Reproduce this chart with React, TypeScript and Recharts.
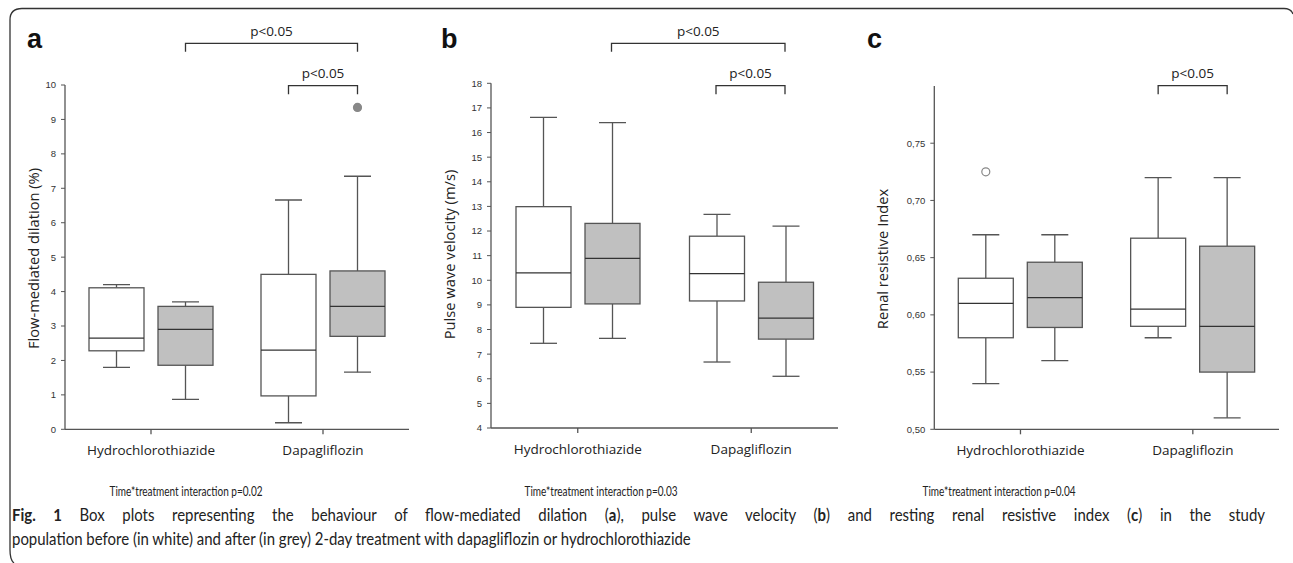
import React from "react";
import { ComposedChart, Bar, XAxis, YAxis } from "recharts";

const categories = ["Hydrochlorothiazide", "Dapagliflozin"];

// five-number summaries per category: [min, q1, median, q3, max]
const fmdBefore = [
  [1.8, 2.28, 2.65, 4.11, 4.2],
  [0.19, 0.97, 2.3, 4.5, 6.66],
];
const fmdAfter = [
  [0.87, 1.86, 2.9, 3.57, 3.7],
  [1.66, 2.7, 3.57, 4.6, 7.35],
];
const fmdAfterOutliers = [[], [9.35]];
const fmdTicks = [0, 1, 2, 3, 4, 5, 6, 7, 8, 9, 10];

const pwvBefore = [
  [7.44, 8.9, 10.3, 12.99, 16.62],
  [6.68, 9.16, 10.27, 11.79, 12.68],
];
const pwvAfter = [
  [7.64, 9.04, 10.89, 12.31, 16.4],
  [6.1, 7.61, 8.46, 9.92, 12.2],
];
const pwvTicks = [4, 5, 6, 7, 8, 9, 10, 11, 12, 13, 14, 15, 16, 17, 18];

const rriBefore = [
  [0.54, 0.58, 0.61, 0.632, 0.67],
  [0.58, 0.59, 0.605, 0.667, 0.72],
];
const rriAfter = [
  [0.56, 0.589, 0.615, 0.646, 0.67],
  [0.51, 0.55, 0.59, 0.66, 0.72],
];
const rriBeforeOutliers = [[0.725], []];
const rriTicks = [0.5, 0.55, 0.6, 0.65, 0.7, 0.75];

const interactionLabels = [
  "Time*treatment interaction p=0.02",
  "Time*treatment interaction p=0.03",
  "Time*treatment interaction p=0.04",
];

const BAR_SIZE = 55;
const BAR_GAP = 14;
const CHART_H = 475;
const LINE = "#555";
const GREY = "#c0c0c0";
const SANS = "'Open Sans', sans-serif";
const TICK_FONT = "'Liberation Sans Narrow', 'Liberation Sans', Arial, sans-serif";
const CAPTION_FONT = "Lato, sans-serif";
const CAPTION_SCALE = 0.88;

const toStats = (s: number[], out: number[] = []) => ({
  min: s[0],
  q1: s[1],
  median: s[2],
  q3: s[3],
  max: s[4],
  outliers: out,
});

const buildRows = (before: number[][], after: number[][], beforeOut?: number[][], afterOut?: number[][]) =>
  categories.map((name, i) => ({
    name,
    before: toStats(before[i], beforeOut?.[i]),
    after: toStats(after[i], afterOut?.[i]),
  }));

const BoxShape = (props: any) => {
  const { x, y, width, height, payload, series, fill, outlierFill } = props;
  const s = payload[series];
  const top = Math.min(y, y + height);
  const h = Math.abs(height);
  const k = h / (s.max - s.min);
  const yOf = (v: number) => top + (s.max - v) * k;
  const cx = x + width / 2;
  const cap = 13.5;
  const sw = 1.3;
  return (
    <g>
      <line x1={cx} x2={cx} y1={yOf(s.max)} y2={yOf(s.q3)} stroke={LINE} strokeWidth={sw} />
      <line x1={cx} x2={cx} y1={yOf(s.q1)} y2={yOf(s.min)} stroke={LINE} strokeWidth={sw} />
      <line x1={cx - cap} x2={cx + cap} y1={yOf(s.max)} y2={yOf(s.max)} stroke={LINE} strokeWidth={sw} />
      <line x1={cx - cap} x2={cx + cap} y1={yOf(s.min)} y2={yOf(s.min)} stroke={LINE} strokeWidth={sw} />
      <rect x={x} y={yOf(s.q3)} width={width} height={yOf(s.q1) - yOf(s.q3)} fill={fill} stroke={LINE} strokeWidth={sw} />
      <line x1={x} x2={x + width} y1={yOf(s.median)} y2={yOf(s.median)} stroke="#333" strokeWidth={sw} />
      {s.outliers.map((o: number, i: number) => (
        <circle key={i} cx={cx} cy={yOf(o)} r={4} fill={outlierFill} stroke="#888" strokeWidth={1.2} />
      ))}
    </g>
  );
};

interface PanelProps {
  left: number;
  width: number;
  plotL: number;
  plotR: number;
  plotT: number;
  plotB: number;
  rows: any[];
  domain: [number, number];
  ticks: number[];
  format?: (v: number) => string;
  beforeOutlierFill?: string;
  afterOutlierFill?: string;
}

const Panel = (p: PanelProps) => {
  const margin = {
    top: p.plotT,
    left: p.plotL - p.left - 60,
    right: p.left + p.width - p.plotR,
    bottom: CHART_H - p.plotB - 30,
  };
  return (
    <div style={{ position: "absolute", left: p.left, top: 0 }}>
      <ComposedChart width={p.width} height={CHART_H} data={p.rows} margin={margin} barGap={BAR_GAP}>
        <XAxis
          dataKey="name"
          tickSize={5}
          tickMargin={11}
          axisLine={{ stroke: LINE, strokeWidth: 1.3 }}
          tickLine={{ stroke: LINE, strokeWidth: 1.3 }}
          tick={{ fontSize: 13.5, fill: "#222", fontFamily: SANS }}
          height={30}
        />
        <YAxis
          type="number"
          domain={p.domain}
          ticks={p.ticks}
          allowDataOverflow
          width={60}
          tickSize={4}
          tickMargin={5}
          tickFormatter={p.format}
          axisLine={{ stroke: LINE, strokeWidth: 1.3 }}
          tickLine={{ stroke: LINE, strokeWidth: 1 }}
          tick={{ fontSize: 9.5, fill: "#333", fontFamily: TICK_FONT }}
        />
        <Bar
          dataKey={(d: any) => [d.before.min, d.before.max]}
          barSize={BAR_SIZE}
          isAnimationActive={false}
          shape={(sp: any) => <BoxShape {...sp} series="before" fill="#fff" outlierFill={p.beforeOutlierFill || "#fff"} />}
        />
        <Bar
          dataKey={(d: any) => [d.after.min, d.after.max]}
          barSize={BAR_SIZE}
          isAnimationActive={false}
          shape={(sp: any) => <BoxShape {...sp} series="after" fill={GREY} outlierFill={p.afterOutlierFill || "#888"} />}
        />
      </ComposedChart>
    </div>
  );
};

const panelA = { left: 0, width: 430, plotL: 65, plotR: 409, plotT: 85, plotB: 429.3 };
const panelB = { left: 420, width: 430, plotL: 491, plotR: 838, plotT: 83.3, plotB: 428 };
const panelC = { left: 850, width: 443, plotL: 934.3, plotR: 1279, plotT: 86, plotB: 429.3 };

const boxCenter = (pn: typeof panelA, cat: number, series: number) => {
  const band = (pn.plotR - pn.plotL) / 2;
  const offset = Math.floor((band - (2 * BAR_SIZE + BAR_GAP)) / 2);
  return pn.plotL + cat * band + offset + series * (BAR_SIZE + BAR_GAP) + BAR_SIZE / 2;
};

const Bracket = ({ x1, x2, y, label }: { x1: number; x2: number; y: number; label: string }) => (
  <g>
    <path d={`M${x1},${y + 8.5} L${x1},${y} L${x2},${y} L${x2},${y + 8.5}`} fill="none" stroke="#333" strokeWidth={1.3} />
    <text x={(x1 + x2) / 2} y={y - 7.5} textAnchor="middle" fontSize={13.5} fontFamily={SANS} fill="#222">
      {label}
    </text>
  </g>
);

const Overlay = () => {
  const panels = [panelA, panelB, panelC];
  const letters = [
    { t: "a", x: 27 },
    { t: "b", x: 441 },
    { t: "c", x: 867 },
  ];
  const yLabels = [
    { t: "Flow-mediated dilation (%)", x: 33, y: 258.5 },
    { t: "Pulse wave velocity (m/s)", x: 449, y: 254.5 },
    { t: "Renal resistive Index", x: 882, y: 259 },
  ];
  const bottomCenters = [186, 601, 999];
  return (
    <svg width={1293} height={563} style={{ position: "absolute", left: 0, top: 0, pointerEvents: "none" }}>
      <path d="M14,563 Q10,560 10,550 L10,20 Q10,8.5 22,8.5 L1284,8.5 Q1291,8.5 1293,14" fill="none" stroke="#333" strokeWidth={1.3} />
      {letters.map((l) => (
        <text key={l.t} x={l.x} y={48} fontSize={27} fontWeight="bold" fontFamily="'Liberation Sans', Arial, sans-serif" fill="#111">
          {l.t}
        </text>
      ))}
      {yLabels.map((l) => (
        <text
          key={l.t}
          x={l.x}
          y={l.y}
          textAnchor="middle"
          dominantBaseline="central"
          transform={`rotate(-90, ${l.x}, ${l.y})`}
          fontSize={14.7}
          fontFamily={SANS}
          fill="#222"
        >
          {l.t}
        </text>
      ))}
      <Bracket x1={boxCenter(panelA, 0, 1)} x2={boxCenter(panelA, 1, 1)} y={43.3} label="p<0.05" />
      <Bracket x1={boxCenter(panelA, 1, 0)} x2={boxCenter(panelA, 1, 1)} y={85.7} label="p<0.05" />
      <Bracket x1={boxCenter(panelB, 0, 1)} x2={boxCenter(panelB, 1, 1)} y={43.3} label="p<0.05" />
      <Bracket x1={boxCenter(panelB, 1, 0)} x2={boxCenter(panelB, 1, 1)} y={85.7} label="p<0.05" />
      <Bracket x1={boxCenter(panelC, 1, 0)} x2={boxCenter(panelC, 1, 1)} y={85.7} label="p<0.05" />
      {panels.map((pn, i) => (
        <text
          key={i}
          x={bottomCenters[i]}
          y={495.5}
          textAnchor="middle"
          fontSize={14}
          fontFamily={CAPTION_FONT}
          fill="#222"
          textLength={153}
          lengthAdjust="spacingAndGlyphs"
        >
          {interactionLabels[i]}
        </text>
      ))}
    </svg>
  );
};

const Caption = () => (
  <div
    style={{
      position: "absolute",
      left: 12,
      top: 503,
      width: 1253 / CAPTION_SCALE,
      fontFamily: CAPTION_FONT,
      fontSize: 17,
      lineHeight: "24px",
      color: "#222",
      transform: `scaleX(${CAPTION_SCALE})`,
      transformOrigin: "0 0",
    }}
  >
    <div style={{ textAlign: "justify", textAlignLast: "justify" }}>
      <b>Fig. 1</b> Box plots representing the behaviour of flow-mediated dilation (<b>a</b>), pulse wave velocity (<b>b</b>) and
      resting renal resistive index (<b>c</b>) in the study
    </div>
    <div>population before (in white) and after (in grey) 2-day treatment with dapagliflozin or hydrochlorothiazide</div>
  </div>
);

const App = () => (
  <div style={{ position: "absolute", left: 0, top: 0, width: 1293, height: 563, background: "#fff", overflow: "hidden" }}>
    <Panel {...panelA} rows={buildRows(fmdBefore, fmdAfter, undefined, fmdAfterOutliers)} domain={[0, 10]} ticks={fmdTicks} />
    <Panel {...panelB} rows={buildRows(pwvBefore, pwvAfter)} domain={[4, 18]} ticks={pwvTicks} />
    <Panel
      {...panelC}
      rows={buildRows(rriBefore, rriAfter, rriBeforeOutliers)}
      domain={[0.5, 0.8]}
      ticks={rriTicks}
      format={(v: number) => v.toFixed(2).replace(".", ",")}
    />
    <Overlay />
    <Caption />
  </div>
);

export default App;
